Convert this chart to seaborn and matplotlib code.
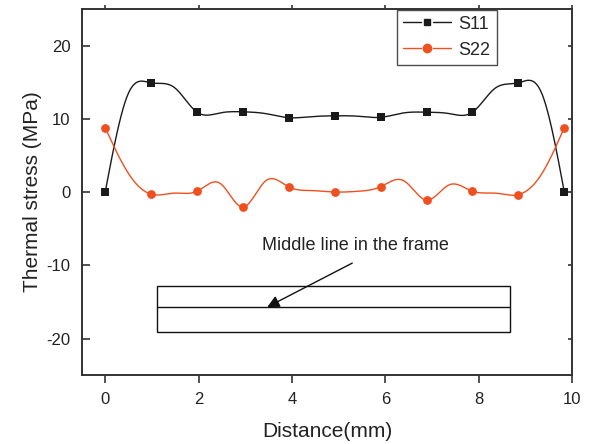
import numpy as np
import pandas as pd
import matplotlib
matplotlib.use("Agg")
import matplotlib.pyplot as plt
from matplotlib.lines import Line2D
from matplotlib.patches import Rectangle
from matplotlib.legend_handler import HandlerBase
import seaborn as sns

# Sampled positions along the middle line (mm); markers sit on every other sample
distance = [0.0, 0.4915, 0.983, 1.4745, 1.966, 2.4575, 2.949, 3.4405, 3.932, 4.4235,
            4.915, 5.4065, 5.898, 6.3895, 6.881, 7.3725, 7.864, 8.3555, 8.847, 9.3385, 9.83]
s11 = [0.0, 13.4, 14.9, 14.3, 10.9, 10.8, 10.95, 10.7, 10.15, 10.3,
       10.4, 10.35, 10.2, 10.8, 10.9, 10.7, 10.9, 14.2, 14.9, 13.6, 0.0]
s22 = [8.8, 2.6, -0.3, -0.15, 0.1, 1.2, -2.05, 1.55, 0.7, 0.2,
       0.0, 0.1, 0.73, 1.55, -1.1, 1.0, 0.1, -0.15, -0.35, 2.4, 8.8]
series_names = ["S11", "S22"]
series_colors = ["#1a1a1a", "#f0501f"]
series_markers = ["s", "o"]
x_ticks = [0, 2, 4, 6, 8, 10]
y_ticks = [-20, -10, 0, 10, 20]


def natural_spline(x, y, n=900):
    """Natural cubic spline through (x, y), evaluated on a fine grid."""
    x = np.asarray(x, float)
    y = np.asarray(y, float)
    k = len(x)
    h = np.diff(x)
    A = np.zeros((k, k))
    b = np.zeros(k)
    A[0, 0] = A[-1, -1] = 1.0
    for i in range(1, k - 1):
        A[i, i - 1] = h[i - 1]
        A[i, i] = 2 * (h[i - 1] + h[i])
        A[i, i + 1] = h[i]
        b[i] = 6 * ((y[i + 1] - y[i]) / h[i] - (y[i] - y[i - 1]) / h[i - 1])
    m = np.linalg.solve(A, b)
    xf = np.linspace(x[0], x[-1], n)
    idx = np.clip(np.searchsorted(x, xf) - 1, 0, k - 2)
    x0, x1 = x[idx], x[idx + 1]
    y0, y1 = y[idx], y[idx + 1]
    m0, m1 = m[idx], m[idx + 1]
    hh = x1 - x0
    t1 = x1 - xf
    t0 = xf - x0
    yf = (m0 * t1 ** 3 + m1 * t0 ** 3) / (6 * hh) \
        + (y0 / hh - m0 * hh / 6) * t1 + (y1 / hh - m1 * hh / 6) * t0
    return xf, yf


class GappedHandler(HandlerBase):
    """Legend key: line, marker, line with small gaps between them."""
    def create_artists(self, legend, orig, xd, yd, width, height, fontsize, trans):
        y = yd + height / 2
        gap = width * 0.12
        mid = xd + width / 2
        color = orig.get_color()
        left = Line2D([xd, mid - gap], [y, y], color=color, lw=orig.get_linewidth())
        right = Line2D([mid + gap, xd + width], [y, y], color=color, lw=orig.get_linewidth())
        mark = Line2D([mid], [y], color=color, marker=orig.get_marker(),
                      markersize=orig.get_markersize(), linestyle="none")
        for a in (left, right, mark):
            a.set_transform(trans)
        return [left, right, mark]


sns.set_theme(style="ticks")
plt.rcParams["font.family"] = ["Liberation Sans", "DejaVu Sans"]
plt.rcParams["axes.unicode_minus"] = False

fig = plt.figure(figsize=(5.93, 4.44), dpi=100)
ax = fig.add_axes([0.138, 0.155, 0.827, 0.825])

handles = []
for name, vals, color, mk in zip(series_names, [s11, s22], series_colors, series_markers):
    xf, yf = natural_spline(distance, vals)
    smooth = pd.DataFrame({"x": xf, "y": yf})
    sns.lineplot(data=smooth, x="x", y="y", ax=ax, color=color, linewidth=1.0,
                 sort=False, estimator=None)
    pts = pd.DataFrame({"x": distance[::2], "y": vals[::2]})
    sns.scatterplot(data=pts, x="x", y="y", ax=ax, color=color, marker=mk,
                    s=32 if mk == "s" else 40, edgecolor=color, linewidth=0, zorder=3)
    handles.append(Line2D([], [], color=color, marker=mk, markersize=5 if mk == "s" else 6,
                          linewidth=1.0, label=name))

ax.set_xlim(-0.5, 10)
ax.set_ylim(-25, 25)
ax.set_xticks(x_ticks)
ax.set_yticks(y_ticks)
ax.set_xlabel("Distance(mm)", fontsize=15, color="#222222", labelpad=11)
ax.set_ylabel("Thermal stress (MPa)", fontsize=15, color="#222222", labelpad=3)

for side in ["left", "right", "top", "bottom"]:
    ax.spines[side].set_visible(True)
    ax.spines[side].set_color("#333333")
    ax.spines[side].set_linewidth(1.4)

ax.tick_params(axis="x", which="major", direction="out", length=6, width=1.2,
               labelsize=12, colors="#333333", labelcolor="#222222", pad=6,
               top=True, labeltop=False)
ax.tick_params(axis="y", which="major", direction="in", length=6, width=1.2,
               labelsize=12, colors="#333333", labelcolor="#222222", pad=8,
               right=True, labelright=False)
for t in ax.xaxis.get_major_ticks():
    t.tick2line.set_markersize(3)
for t in ax.yaxis.get_major_ticks():
    t.tick2line.set_markersize(3)

leg = ax.legend(handles=handles, handler_map={Line2D: GappedHandler()},
                loc="upper left", bbox_to_anchor=(0.642, 0.998),
                fontsize=13, frameon=True, fancybox=False, handlelength=2.7,
                handletextpad=0.4, borderpad=0.33, labelspacing=0.5, borderaxespad=0.0)
leg.get_frame().set_edgecolor("#222222")
leg.get_frame().set_linewidth(1.0)

# Sketch of the frame cross-section with its middle line
ax.add_patch(Rectangle((1.1, -19.1), 7.57, 6.33, fill=False, edgecolor="#111111", linewidth=1.0))
ax.plot([1.1, 8.67], [-15.7, -15.7], color="#111111", linewidth=1.0)
ax.annotate("", xy=(3.47, -15.7), xytext=(5.29, -9.7),
            arrowprops=dict(arrowstyle="-|>", color="#111111", lw=1.0,
                            mutation_scale=18, shrinkA=0, shrinkB=0))
ax.text(3.35, -7.3, "Middle line in the frame", fontsize=13, color="#222222",
        ha="left", va="center")

fig.savefig("out.png", dpi=100)
